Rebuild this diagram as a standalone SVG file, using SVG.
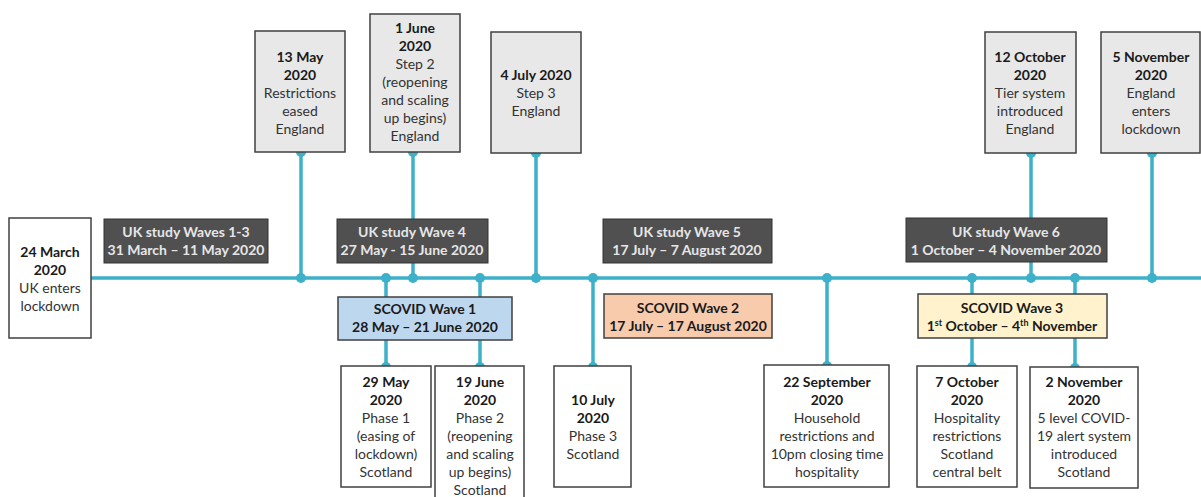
<svg xmlns="http://www.w3.org/2000/svg" width="1201" height="497" viewBox="0 0 1201 497">
<style>
text{font-family:Lato,"Open Sans","Liberation Sans",sans-serif;font-size:14px;text-anchor:middle;fill:#333}
.b{font-weight:bold;fill:#1a1a1a}
.w{font-weight:bold;fill:#e6e6e6}
.grey{fill:#e8e8e8;stroke:#404040;stroke-width:1.5}
.white{fill:#fff;stroke:#404040;stroke-width:1.5}
.dark{fill:#505050;stroke:#333;stroke-width:1}
.line{stroke:#3cb1c9;stroke-width:3.5;fill:none}
.dot{fill:#3cb1c9}
</style>
<rect width="1201" height="497" fill="#fff"/>
<g id="connectors">
<line class="line" x1="91" y1="278" x2="1201" y2="278"/>
<path class="line" d="M301 152V278M413 152V278M536 153V278M1031 153V278M1152 153V278M386 278V367M480 278V367M593 278V367M827 278V366M972 278V367M1075 278V368"/>
<g class="dot">
<circle cx="301" cy="152" r="5"/><circle cx="413" cy="152" r="5"/><circle cx="536" cy="153" r="5"/><circle cx="1031" cy="153" r="5"/><circle cx="1152" cy="153" r="5"/>
<circle cx="301" cy="278" r="5"/><circle cx="386" cy="278" r="5"/><circle cx="413" cy="278" r="5"/><circle cx="480" cy="278" r="5"/><circle cx="536" cy="278" r="5"/><circle cx="593" cy="278" r="5"/><circle cx="827" cy="278" r="5"/><circle cx="972" cy="278" r="5"/><circle cx="1031" cy="278" r="5"/><circle cx="1075" cy="278" r="5"/><circle cx="1152" cy="278" r="5"/>
<circle cx="386" cy="367" r="5"/><circle cx="480" cy="367" r="5"/><circle cx="593" cy="367" r="5"/><circle cx="827" cy="366" r="5"/><circle cx="972" cy="367" r="5"/><circle cx="1075" cy="368" r="5"/>
</g>
</g>
<g id="n24mar"><rect class="white" x="9" y="218" width="82" height="120"/>
<text x="50" y="257" class="b">24 March</text><text x="50" y="275" class="b">2020</text><text x="50" y="293">UK enters</text><text x="50" y="311">lockdown</text></g>
<g id="n13may"><rect class="grey" x="255" y="31" width="90" height="121"/>
<text x="300" y="62" class="b">13 May</text><text x="300" y="80" class="b">2020</text><text x="300" y="98">Restrictions</text><text x="300" y="116">eased</text><text x="300" y="134">England</text></g>
<g id="n1jun"><rect class="grey" x="370" y="14" width="90" height="138"/>
<text x="415" y="33" class="b">1 June</text><text x="415" y="51" class="b">2020</text><text x="415" y="69">Step 2</text><text x="415" y="87">(reopening</text><text x="415" y="105">and scaling</text><text x="415" y="123">up begins)</text><text x="415" y="141">England</text></g>
<g id="n4jul"><rect class="grey" x="491" y="32" width="90" height="121"/>
<text x="536" y="80" class="b">4 July 2020</text><text x="536" y="98">Step 3</text><text x="536" y="116">England</text></g>
<g id="n12oct"><rect class="grey" x="985" y="32" width="91" height="121"/>
<text x="1030" y="62" class="b">12 October</text><text x="1030" y="80" class="b">2020</text><text x="1030" y="98">Tier system</text><text x="1030" y="116">introduced</text><text x="1030" y="134">England</text></g>
<g id="n5nov"><rect class="grey" x="1101" y="32" width="99" height="121"/>
<text x="1151" y="62" class="b">5 November</text><text x="1151" y="80" class="b">2020</text><text x="1151" y="98">England</text><text x="1151" y="116">enters</text><text x="1151" y="134">lockdown</text></g>
<g id="uk13"><rect class="dark" x="104" y="219" width="164" height="44"/>
<text x="186" y="237" class="w">UK study Waves 1-3</text><text x="186" y="255" class="w">31 March – 11 May 2020</text></g>
<g id="uk4"><rect class="dark" x="337" y="219" width="151" height="44"/>
<text x="412" y="237" class="w">UK study Wave 4</text><text x="412" y="255" class="w">27 May - 15 June 2020</text></g>
<g id="uk5"><rect class="dark" x="603" y="219" width="169" height="44"/>
<text x="687" y="237" class="w">UK study Wave 5</text><text x="687" y="255" class="w">17 July – 7 August 2020</text></g>
<g id="uk6"><rect class="dark" x="906" y="218" width="201" height="44"/>
<text x="1006" y="237" class="w">UK study Wave 6</text><text x="1006" y="255" class="w">1 October – 4 November 2020</text></g>
<g id="sc1"><rect x="338" y="297" width="174" height="43" fill="#bdd7ee" stroke="#404040" stroke-width="1.5"/>
<text x="425" y="314" class="b">SCOVID Wave 1</text><text x="425" y="332" class="b">28 May – 21 June 2020</text></g>
<g id="sc2"><rect x="604" y="294" width="168" height="44" fill="#f8cbad" stroke="#404040" stroke-width="1.5"/>
<text x="688" y="313" class="b">SCOVID Wave 2</text><text x="688" y="331" class="b">17 July – 17 August 2020</text></g>
<g id="sc3"><rect x="918" y="294" width="189" height="44" fill="#fff2cc" stroke="#404040" stroke-width="1.5"/>
<text x="1012" y="313" class="b">SCOVID Wave 3</text><text x="1012" y="331" class="b">1<tspan font-size="9" dy="-5">st</tspan><tspan dy="5"> October – 4</tspan><tspan font-size="9" dy="-5">th</tspan><tspan dy="5"> November</tspan></text></g>
<g id="n29may"><rect class="white" x="341" y="366" width="90" height="121"/>
<text x="386" y="387" class="b">29 May</text><text x="386" y="405" class="b">2020</text><text x="386" y="423">Phase 1</text><text x="386" y="441">(easing of</text><text x="386" y="459">lockdown)</text><text x="386" y="477">Scotland</text></g>
<g id="n19jun"><rect class="white" x="435" y="366" width="89" height="140"/>
<text x="480" y="387" class="b">19 June</text><text x="480" y="405" class="b">2020</text><text x="480" y="423">Phase 2</text><text x="480" y="441">(reopening</text><text x="480" y="459">and scaling</text><text x="480" y="477">up begins)</text><text x="480" y="495">Scotland</text></g>
<g id="n10jul"><rect class="white" x="554" y="366" width="77" height="121"/>
<text x="593" y="405" class="b">10 July</text><text x="593" y="423" class="b">2020</text><text x="593" y="441">Phase 3</text><text x="593" y="459">Scotland</text></g>
<g id="n22sep"><rect class="white" x="764" y="365" width="125" height="122"/>
<text x="827" y="387" class="b">22 September</text><text x="827" y="405" class="b">2020</text><text x="827" y="423">Household</text><text x="827" y="441">restrictions and</text><text x="827" y="459">10pm closing time</text><text x="827" y="477">hospitality</text></g>
<g id="n7oct"><rect class="white" x="917" y="366" width="100" height="121"/>
<text x="967" y="387" class="b">7 October</text><text x="967" y="405" class="b">2020</text><text x="967" y="423">Hospitality</text><text x="967" y="441">restrictions</text><text x="967" y="459">Scotland</text><text x="967" y="477">central belt</text></g>
<g id="n2nov"><rect class="white" x="1030" y="367" width="108" height="121"/>
<text x="1084" y="387" class="b">2 November</text><text x="1084" y="405" class="b">2020</text><text x="1084" y="423">5 level COVID-</text><text x="1084" y="441">19 alert system</text><text x="1084" y="459">introduced</text><text x="1084" y="477">Scotland</text></g>
</svg>
